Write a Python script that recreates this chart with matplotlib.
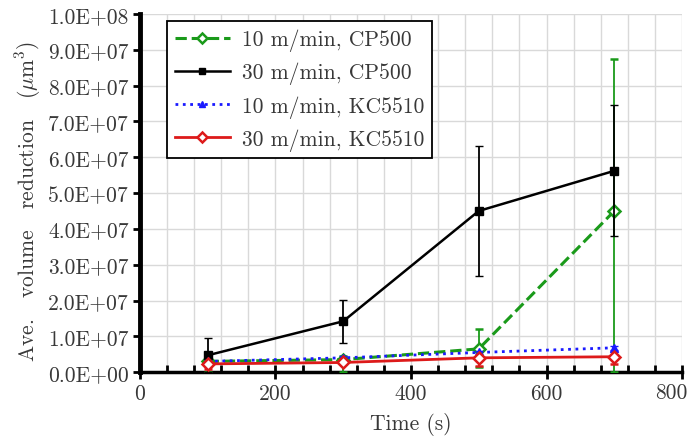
import matplotlib
matplotlib.use("Agg")
import matplotlib.pyplot as plt
from matplotlib.ticker import MultipleLocator, FuncFormatter
from matplotlib.lines import Line2D

plt.rcParams['font.family'] = ['cmr10', 'DejaVu Serif']
plt.rcParams['mathtext.fontset'] = 'cm'
plt.rcParams['axes.unicode_minus'] = False

time = [100, 300, 500, 700]
labels = ["10 m/min, CP500", "30 m/min, CP500", "10 m/min, KC5510", "30 m/min, KC5510"]
x_ticks = [0, 200, 400, 600, 800]

g_val = [3.0e6, 3.5e6, 6.5e6, 4.5e7]
g_lo = [3.0e6, 3.5e6, 5.0e6, 4.5e7]
g_hi = [1.0e6, 1.0e6, 5.5e6, 4.25e7]

k_val = [4.7e6, 1.42e7, 4.5e7, 5.62e7]
k_lo = [4.7e6, 6.2e6, 1.82e7, 1.82e7]
k_hi = [4.9e6, 6.0e6, 1.82e7, 1.83e7]

b_val = [3.0e6, 4.0e6, 5.5e6, 6.8e6]
b_lo = [5.0e5, 5.0e5, 5.0e5, 5.0e5]
b_hi = [5.0e5, 5.0e5, 5.0e5, 5.0e5]

r_val = [2.3e6, 2.7e6, 4.0e6, 4.3e6]
r_lo = [1.5e6, 5.0e5, 2.3e6, 2.0e6]
r_hi = [5.0e5, 5.0e5, 5.0e5, 5.0e5]

FS = 15.5
TC = '#383838'

fig = plt.figure(figsize=(6.89, 4.39), dpi=100)
ax = fig.add_axes([0.203, 0.150, 0.787, 0.816])

styles = [
    dict(color='#1a9a1a', ls='--', lw=2.2, marker='D', ms=6, mfc='white', mec='#1a9a1a', mew=1.8),
    dict(color='black', ls='-', lw=1.8, marker='s', ms=6, mfc='black', mec='black', mew=1.0),
    dict(color='#1a1aff', ls=':', lw=2.0, marker='^', ms=6, mfc='#1a1aff', mec='#1a1aff', mew=1.0),
    dict(color='#dd1a1a', ls='-', lw=2.0, marker='D', ms=6, mfc='white', mec='#dd1a1a', mew=1.8),
]
series = [(g_val, g_lo, g_hi), (k_val, k_lo, k_hi), (b_val, b_lo, b_hi), (r_val, r_lo, r_hi)]

handles = []
for i, ((v, lo, hi), st) in enumerate(zip(series, styles)):
    ax.errorbar(time, v, yerr=[lo, hi], elinewidth=1.3, capsize=3, zorder=3 + i, **st)
    hs = dict(st)
    hs['ms'] = 5
    handles.append(Line2D([], [], **hs))

ax.set_xlim(x_ticks[0], x_ticks[-1])
ax.set_ylim(0, 1.0e8)
ax.set_xticks(x_ticks)
ax.set_xticklabels([str(t) for t in x_ticks[:-1]] + [""])
ax.xaxis.set_minor_locator(MultipleLocator(40))
ax.yaxis.set_major_locator(MultipleLocator(1e7))
# last x tick label, nudged left so it stays inside the picture
ax.annotate(str(x_ticks[-1]), xy=(x_ticks[-1], 0), xycoords=('data', 'axes fraction'),
            xytext=(4, -7.5), textcoords='offset points', ha='right', va='top',
            fontsize=FS, color=TC)

def yfmt(v, pos):
    m, e = f"{v:.1E}".split("E")
    return f"{m}E{e[0]}{int(e[1:]):02d}"
ax.yaxis.set_major_formatter(FuncFormatter(yfmt))

ax.grid(True, which='major', axis='y', color='#d9d9d9', lw=1.0)
ax.grid(True, which='both', axis='x', color='#d9d9d9', lw=1.0)
ax.set_axisbelow(True)

for s in ['top', 'right']:
    ax.spines[s].set_visible(False)
ax.spines['left'].set_linewidth(3.5)
ax.spines['bottom'].set_linewidth(2.5)

ax.tick_params(axis='y', which='major', direction='out', length=5, width=2,
               labelsize=FS, labelcolor=TC, pad=3)
ax.tick_params(axis='x', which='major', direction='inout', length=10, width=2,
               labelsize=FS, labelcolor=TC, pad=3)
ax.tick_params(axis='x', which='minor', direction='in', length=5, width=2)

ax.set_xlabel("Time (s)", fontsize=FS, color=TC, labelpad=7)
ax.set_ylabel(r"Ave.   volume   reduction   ($\mu$m$^3$)", fontsize=FS,
              color=TC)
ax.yaxis.set_label_coords(-0.178, 0.48)

leg = ax.legend(handles, labels, loc='upper left', bbox_to_anchor=(0.05, 0.98), fontsize=FS,
                frameon=True, fancybox=False, edgecolor='black', borderaxespad=0,
                framealpha=1, handlelength=2.6, handletextpad=0.55,
                borderpad=0.35, labelspacing=0.5)
leg.get_frame().set_linewidth(1.3)
for t in leg.get_texts():
    t.set_color(TC)

fig.savefig("out.png", dpi=100)
